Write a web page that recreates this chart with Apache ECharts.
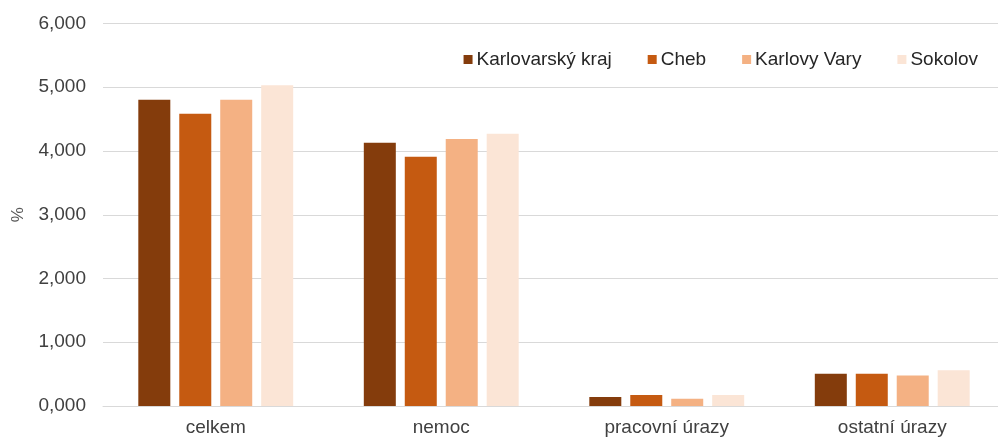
<!DOCTYPE html>
<html>
<head>
<meta charset="utf-8">
<script src="https://cdn.jsdelivr.net/npm/echarts@6/dist/echarts.min.js"></script>
<style>
  html, body { margin: 0; padding: 0; background: #fff; }
  #chart { width: 998px; height: 437px; }
</style>
</head>
<body>
<div id="chart"></div>
<script>
const categories = ['celkem', 'nemoc', 'pracovní úrazy', 'ostatní úrazy'];
const seriesNames = ['Karlovarský kraj', 'Cheb', 'Karlovy Vary', 'Sokolov'];
const karlovarskyKraj = [4.805, 4.13, 0.141, 0.506];
const cheb = [4.585, 3.91, 0.172, 0.506];
const karlovyVary = [4.805, 4.19, 0.115, 0.48];
const sokolov = [5.03, 4.27, 0.172, 0.559];
const colors = ['#843C0C', '#C55A11', '#F4B183', '#FBE5D6'];

const values = [karlovarskyKraj, cheb, karlovyVary, sokolov];
const font = 'Liberation Sans';

const chart = echarts.init(document.getElementById('chart'), null, { renderer: 'canvas' });

chart.setOption({
  animation: false,
  textStyle: { fontFamily: font },
  grid: { left: 103, top: 23.5, bottom: 31, width: 902, outerBoundsMode: 'none', containLabel: false },
  legend: {
    right: 15,
    top: 45,
    itemWidth: 9,
    itemHeight: 9,
    itemGap: 36,
    icon: 'rect',
    textStyle: { fontFamily: font, fontSize: 19, color: '#262626', padding: [0, 0, 0, -1] },
    data: seriesNames
  },
  xAxis: {
    type: 'category',
    data: categories,
    axisTick: { show: false },
    axisLine: { lineStyle: { color: '#d9d9d9', width: 1 } },
    axisLabel: { fontFamily: font, fontSize: 19, color: '#404040', margin: 12 }
  },
  yAxis: {
    type: 'value',
    min: 0,
    max: 6,
    interval: 1,
    name: '%',
    nameLocation: 'middle',
    nameRotate: 90,
    nameGap: 76,
    nameTextStyle: { fontFamily: font, fontSize: 17, color: '#595959' },
    axisLine: { show: false },
    axisTick: { show: false },
    axisLabel: {
      fontFamily: font, fontSize: 19, color: '#404040', margin: 17,
      formatter: v => v.toFixed(3).replace('.', ',')
    },
    splitLine: { lineStyle: { color: '#d9d9d9', width: 1 } }
  },
  series: seriesNames.map((name, i) => ({
    name,
    type: 'bar',
    data: values[i],
    barWidth: 32,
    barGap: '28%',
    itemStyle: { color: colors[i] }
  }))
});
</script>
</body>
</html>
